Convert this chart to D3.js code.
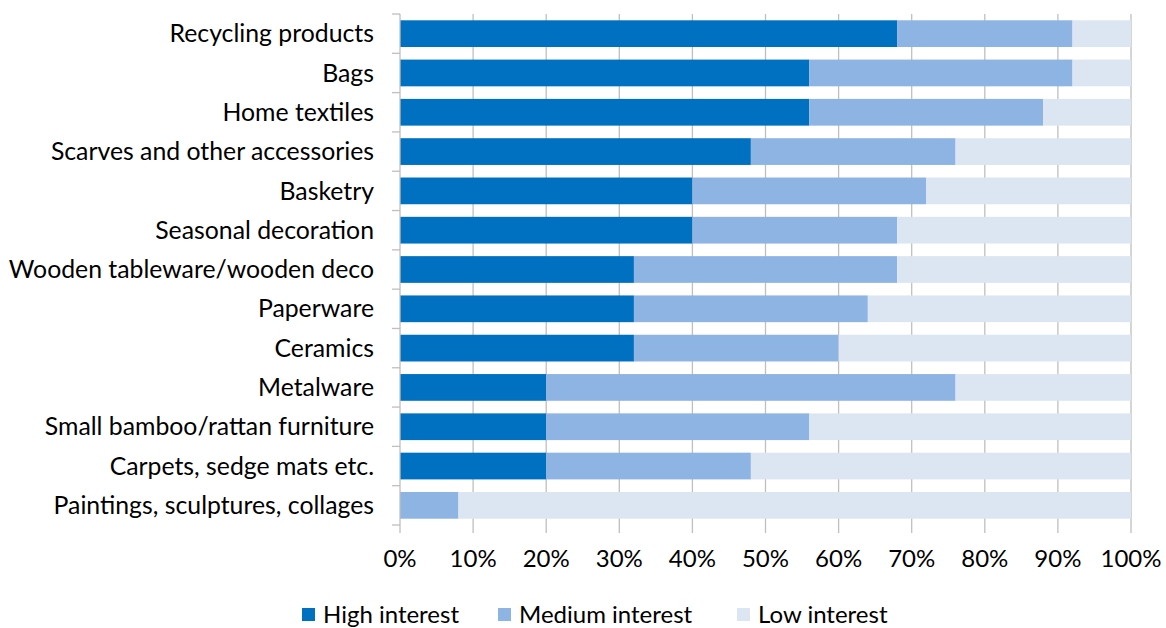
<!DOCTYPE html>
<html>
<head>
<meta charset="utf-8">
<script src="https://cdn.jsdelivr.net/npm/d3@7"></script>
<style>
  body { margin: 0; background: #fff; }
  svg text { font-family: Lato, "Open Sans", sans-serif; fill: #000; }
</style>
</head>
<body>
<div id="chart"></div>
<script>
// Interest by product group (share of respondents, %)
const categories = [
  'Recycling products', 'Bags', 'Home textiles ', 'Scarves and other accessories',
  'Basketry', 'Seasonal decoration', 'Wooden tableware/wooden deco', 'Paperware',
  'Ceramics', 'Metalware', 'Small bamboo/rattan furniture', 'Carpets, sedge mats etc.',
  'Paintings, sculptures, collages'
];
const highInterest   = [68, 56, 56, 48, 40, 40, 32, 32, 32, 20, 20, 20, 0];
const mediumInterest = [24, 36, 32, 28, 32, 28, 36, 32, 28, 56, 36, 28, 8];
const lowInterest    = [8, 8, 12, 24, 28, 32, 32, 36, 40, 24, 44, 52, 92];
const seriesNames = ['High interest', 'Medium interest', 'Low interest'];
const seriesColors = ['#0070c0', '#8eb4e3', '#dce6f2'];
const xTicks = [0, 10, 20, 30, 40, 50, 60, 70, 80, 90, 100];

const width = 1166, height = 628;
const margin = { top: 14, left: 400, right: 35, bottom: 103 };

const svg = d3.select('#chart').append('svg')
  .attr('width', width)
  .attr('height', height);

const x = d3.scaleLinear().domain([0, 100]).range([margin.left, width - margin.right]);
const y = d3.scaleBand().domain(categories)
  .range([margin.top, height - margin.bottom])
  .paddingInner(0.32).paddingOuter(0.16);

const rows = categories.map((c, i) => ({
  cat: c, High: highInterest[i], Medium: mediumInterest[i], Low: lowInterest[i]
}));
const stack = d3.stack().keys(['High', 'Medium', 'Low'])(rows);

// gridlines
svg.append('g')
  .selectAll('line')
  .data(xTicks.slice(1))
  .enter()
  .append('line')
  .attr('x1', d => x(d)).attr('x2', d => x(d))
  .attr('y1', margin.top).attr('y2', height - margin.bottom + 8)
  .attr('stroke', '#bfbfbf')
  .attr('stroke-width', 1.3);

// bars
svg.append('g')
  .selectAll('g')
  .data(stack)
  .enter()
  .append('g')
  .attr('fill', (d, i) => seriesColors[i])
  .selectAll('rect')
  .data(d => d)
  .enter()
  .append('rect')
  .attr('x', d => x(d[0]))
  .attr('width', d => x(d[1]) - x(d[0]))
  .attr('y', d => y(d.data.cat))
  .attr('height', y.bandwidth());

// y axis line and ticks
const yAxis = svg.append('g');
yAxis.append('line')
  .attr('x1', x(0)).attr('x2', x(0))
  .attr('y1', margin.top).attr('y2', height - margin.bottom + 8)
  .attr('stroke', '#bfbfbf').attr('stroke-width', 1.3);
const rowStep = (height - margin.bottom - margin.top) / categories.length;
yAxis.selectAll('.tk')
  .data(d3.range(categories.length + 1))
  .enter()
  .append('line')
  .attr('x1', x(0) - 8).attr('x2', x(0))
  .attr('y1', i => margin.top + i * rowStep)
  .attr('y2', i => margin.top + i * rowStep)
  .attr('stroke', '#bfbfbf').attr('stroke-width', 1.3);

// category labels
svg.append('g')
  .selectAll('text')
  .data(categories)
  .enter()
  .append('text')
  .attr('x', x(0) - 26)
  .attr('y', d => y(d) + y.bandwidth() / 2)
  .attr('dy', '0.35em')
  .attr('text-anchor', 'end')
  .attr('font-size', '24.8px')
  .text(d => d);

// x tick labels
svg.append('g')
  .selectAll('text')
  .data(xTicks)
  .enter()
  .append('text')
  .attr('x', d => x(d))
  .attr('y', 567)
  .attr('text-anchor', 'middle')
  .attr('font-size', '24px')
  .text(d => d + '%');

// legend
const legendX = [302, 498, 737];
const legend = svg.append('g')
  .selectAll('g')
  .data(seriesNames)
  .enter()
  .append('g')
  .attr('transform', (d, i) => `translate(${legendX[i]},${608})`);
legend.append('rect')
  .attr('width', 13).attr('height', 13)
  .attr('fill', (d, i) => seriesColors[i]);
legend.append('text')
  .attr('x', 21).attr('y', 6.5)
  .attr('dy', '0.35em')
  .attr('font-size', '24px')
  .text(d => d);
</script>
</body>
</html>
